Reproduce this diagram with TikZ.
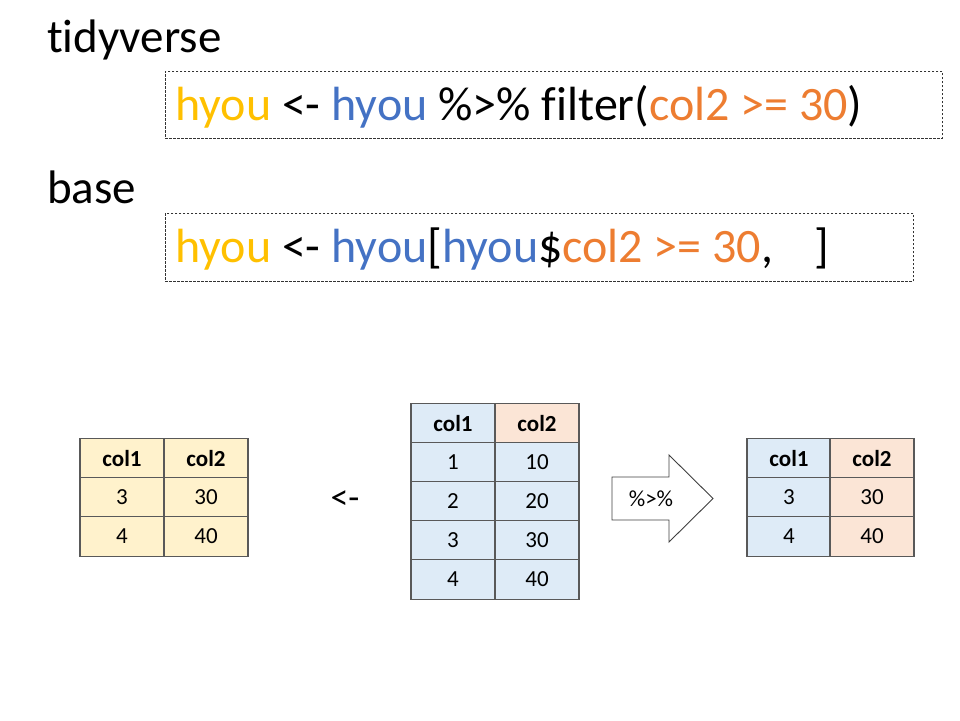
\documentclass[tikz,border=0pt]{standalone}
\usepackage{fontspec}
\setmainfont[Ligatures={NoCommon,NoRequired,NoContextual}]{Carlito}
\definecolor{hy}{HTML}{FFC000}
\definecolor{bl}{HTML}{4472C4}
\definecolor{orn}{HTML}{ED7D31}
\definecolor{yfill}{HTML}{FFF2CC}
\definecolor{bfill}{HTML}{DEEBF7}
\definecolor{ofill}{HTML}{FBE5D6}
\definecolor{gridc}{HTML}{595959}
\begin{document}
\begin{tikzpicture}[x=1pt,y=-1pt,
  cell/.style={draw=gridc, line width=1.2pt, minimum width=84pt, minimum height=39.5pt, inner sep=0pt, font=\fontsize{23}{26}\selectfont},
  hcell/.style={cell, font=\fontsize{23}{26}\selectfont\bfseries},
  codebox/.style={draw=black!80, dash pattern=on 2.5pt off 1.5pt, line width=0.8pt, inner sep=0pt, anchor=north west},
  codetext/.style={anchor=base west, inner sep=0pt, font=\fontsize{48}{52}\selectfont},
  title/.style={anchor=base west, inner sep=0pt, font=\fontsize{47}{52}\selectfont},
  arrowshape/.style={draw=black!75, line width=0.9pt, fill=white}]
\useasboundingbox (0,0) rectangle (960,720);

% titles
\node[title] (tidy) at (47,52) {tidyverse};
\node[title] (base) at (47,203) {base};

% code boxes
\node[codebox, minimum width=777pt, minimum height=67pt] (box1) at (165,71) {};
\node[codebox, minimum width=748pt, minimum height=68pt] (box2) at (165,213) {};
\node[codetext] (code1) at (175,120) {\textcolor{hy}{hyou} <- \textcolor{bl}{hyou} \%>\% filter(\textcolor{orn}{col2 >= 30})};
\node[codetext] (code2) at (175,262) {\textcolor{hy}{hyou} <- \textcolor{bl}{hyou}[\textcolor{bl}{hyou}\$\textcolor{orn}{col2 >= 30},\hspace{0.85em}]};

% left table
\node[hcell, fill=yfill] (l11) at (122,458.5) {col1};
\node[hcell, fill=yfill] (l12) at (206,458.5) {col2};
\node[cell, fill=yfill] (l21) at (122,497.5) {3};
\node[cell, fill=yfill] (l22) at (206,497.5) {30};
\node[cell, fill=yfill] (l31) at (122,536.5) {4};
\node[cell, fill=yfill] (l32) at (206,536.5) {40};

% assignment
\node[font=\fontsize{36}{40}\selectfont, inner sep=0pt] (assign) at (345,500) {<-};

% middle table
\node[hcell, fill=bfill] (m11) at (453,423.5) {col1};
\node[hcell, fill=ofill] (m12) at (537,423.5) {col2};
\node[cell, fill=bfill] (m21) at (453,462.5) {1};
\node[cell, fill=bfill] (m22) at (537,462.5) {10};
\node[cell, fill=bfill] (m31) at (453,501.5) {2};
\node[cell, fill=bfill] (m32) at (537,501.5) {20};
\node[cell, fill=bfill] (m41) at (453,540.5) {3};
\node[cell, fill=bfill] (m42) at (537,540.5) {30};
\node[cell, fill=bfill] (m51) at (453,579.5) {4};
\node[cell, fill=bfill] (m52) at (537,579.5) {40};

% pipe arrow
\draw[arrowshape] (612,477) -- (669,477) -- (669,455) -- (713,498.5) -- (669,542) -- (669,520) -- (612,520) -- cycle;
\node[font=\fontsize{23}{26}\selectfont, inner sep=0pt] (pipe) at (651,499) {\%>\%};

% right table
\node[hcell, fill=bfill] (r11) at (789,458.5) {col1};
\node[hcell, fill=ofill] (r12) at (872,458.5) {col2};
\node[cell, fill=bfill] (r21) at (789,497.5) {3};
\node[cell, fill=ofill] (r22) at (872,497.5) {30};
\node[cell, fill=bfill] (r31) at (789,536.5) {4};
\node[cell, fill=ofill] (r32) at (872,536.5) {40};
\end{tikzpicture}
\end{document}
